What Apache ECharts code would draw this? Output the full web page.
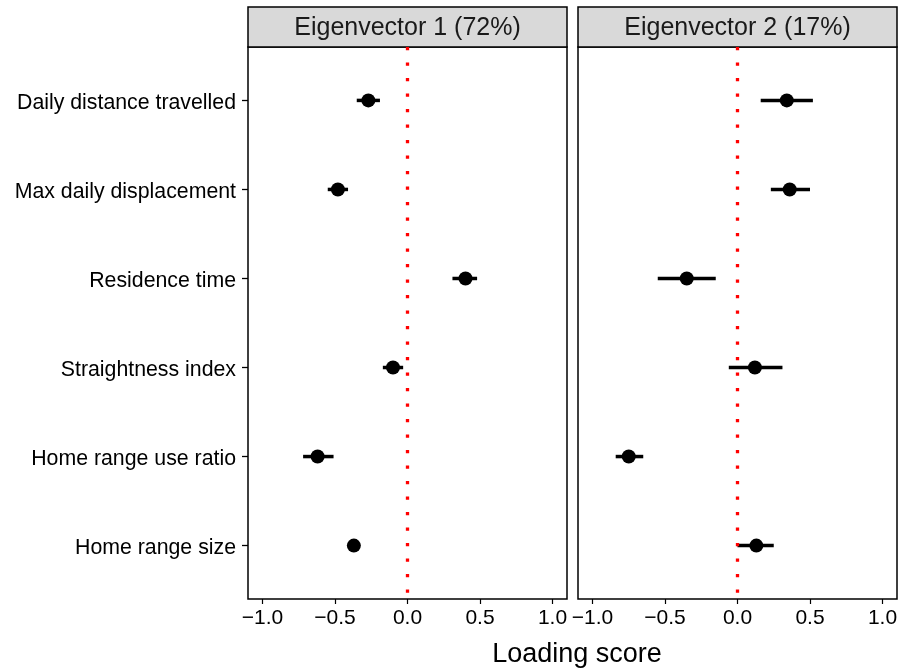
<!DOCTYPE html>
<html>
<head>
<meta charset="utf-8">
<script src="https://cdn.jsdelivr.net/npm/echarts@6/dist/echarts.min.js"></script>
<style>
  html, body { margin: 0; padding: 0; background: #fff; }
  #container { width: 909px; height: 671px; }
</style>
</head>
<body>
<div id="container"></div>
<script>
var categories = ['Daily distance travelled', 'Max daily displacement', 'Residence time',
                  'Straightness index', 'Home range use ratio', 'Home range size'];
var panelTitles = ['Eigenvector 1 (72%)', 'Eigenvector 2 (17%)'];
var xTicks = [-1, -0.5, 0, 0.5, 1];

// loading score with interval, one row per category
var ev1Est = [-0.27, -0.48, 0.40, -0.10, -0.62, -0.37];
var ev1Lo  = [-0.35, -0.55, 0.31, -0.17, -0.72, -0.39];
var ev1Hi  = [-0.19, -0.41, 0.48, -0.03, -0.51, -0.35];
var ev2Est = [0.34, 0.36, -0.35, 0.12, -0.75, 0.13];
var ev2Lo  = [0.16, 0.23, -0.55, -0.06, -0.84, 0.00];
var ev2Hi  = [0.52, 0.50, -0.15, 0.31, -0.65, 0.25];

var font = '"Liberation Sans", Arial, Helvetica, sans-serif';
var rowIdx = categories.map(function (c, i) { return i + 1; });
var xMin = -1.1, xMax = 1.1;

var dom = document.getElementById('container');
var myChart = echarts.init(dom);

function fmtTick(v) {
    return v.toFixed(1).replace('-', '\u2212');
}

function xAxisFor(gi) {
    return {
        gridIndex: gi,
        type: 'value',
        min: xMin,
        max: xMax,
        axisLine: {show: false, onZero: false},
        splitLine: {show: false},
        axisTick: {show: true, customValues: xTicks, length: 5, lineStyle: {color: '#000', width: 1.2}},
        axisLabel: {
            customValues: xTicks,
            formatter: fmtTick,
            fontSize: 21,
            fontFamily: font,
            color: '#000',
            margin: 9
        }
    };
}

function yAxisFor(gi, withLabels) {
    return {
        gridIndex: gi,
        type: 'value',
        min: 0.4,
        max: 6.6,
        inverse: true,
        axisLine: {show: false, onZero: false},
        splitLine: {show: false},
        axisTick: {show: false},
        axisLabel: {
            show: withLabels,
            customValues: rowIdx,
            formatter: function (v) { return categories[Math.round(v) - 1]; },
            fontSize: 21.3,
            fontFamily: font,
            color: '#000',
            verticalAlign: 'top',
            lineHeight: 5,
            margin: 12
        }
    };
}

// extra axis on the first panel, only for the row ticks
var yTickAxis = {
    gridIndex: 0,
    type: 'value',
    position: 'left',
    min: 0.4,
    max: 6.6,
    inverse: true,
    axisLine: {show: false, onZero: false},
    splitLine: {show: false},
    axisLabel: {show: false},
    axisTick: {show: true, customValues: rowIdx, length: 6, lineStyle: {color: '#000', width: 1.3}}
};

function barData(lo, hi) {
    return lo.map(function (v, i) { return [v, hi[i], i + 1]; });
}
function pointData(est) {
    return est.map(function (v, i) { return [v, i + 1]; });
}

function renderBar(params, api) {
    var y = api.value(2);
    var p1 = api.coord([api.value(0), y]);
    var p2 = api.coord([api.value(1), y]);
    return {
        type: 'line',
        shape: {x1: p1[0], y1: p1[1], x2: p2[0], y2: p2[1]},
        style: {stroke: '#000', lineWidth: 3.5, lineCap: 'butt'}
    };
}

function panelSeries(gi, est, lo, hi) {
    return [
        {
            type: 'custom',
            xAxisIndex: gi,
            yAxisIndex: gi,
            renderItem: renderBar,
            encode: {x: [0, 1], y: 2},
            data: barData(lo, hi),
            z: 2
        },
        {
            type: 'scatter',
            xAxisIndex: gi,
            yAxisIndex: gi,
            symbol: 'circle',
            symbolSize: 14,
            itemStyle: {color: '#000', opacity: 1},
            data: pointData(est),
            z: 3,
            markLine: {
                silent: true,
                symbol: ['none', 'none'],
                label: {show: false},
                lineStyle: {color: '#ff0000', width: 3.3, type: [3.3, 12.2], cap: 'butt', opacity: 1},
                data: [{xAxis: 0}]
            }
        }
    ];
}

var gridTop = 47, gridH = 552, gridW = 319;
var gridLefts = [248, 578];

var series = panelSeries(0, ev1Est, ev1Lo, ev1Hi).concat(panelSeries(1, ev2Est, ev2Lo, ev2Hi));
// empty series so the tick axis is used
series.push({type: 'scatter', xAxisIndex: 0, yAxisIndex: 2, data: [], silent: true});

var option = {
    animation: false,
    grid: gridLefts.map(function (l) {
        return {left: l, top: gridTop, width: gridW, height: gridH,
                show: true, borderColor: '#000', borderWidth: 1.5, backgroundColor: '#fff'};
    }),
    xAxis: [xAxisFor(0), xAxisFor(1)],
    yAxis: [yAxisFor(0, true), yAxisFor(1, false), yTickAxis],
    series: series,
    graphic: [
        {type: 'rect', shape: {x: gridLefts[0], y: 7, width: gridW, height: 40},
         style: {fill: '#d9d9d9', stroke: '#000', lineWidth: 1.5}},
        {type: 'rect', shape: {x: gridLefts[1], y: 7, width: gridW, height: 40},
         style: {fill: '#d9d9d9', stroke: '#000', lineWidth: 1.5}},
        {type: 'text', x: gridLefts[0] + gridW / 2, y: 28,
         style: {text: panelTitles[0], fontSize: 25, fontFamily: font, fill: '#1a1a1a',
                 align: 'center', verticalAlign: 'middle'}},
        {type: 'text', x: gridLefts[1] + gridW / 2, y: 28,
         style: {text: panelTitles[1], fontSize: 25, fontFamily: font, fill: '#1a1a1a',
                 align: 'center', verticalAlign: 'middle'}},
        {type: 'text', x: 577, y: 655,
         style: {text: 'Loading score', fontSize: 27, fontFamily: font, fill: '#000',
                 align: 'center', verticalAlign: 'middle'}}
    ]
};

myChart.setOption(option);
</script>
</body>
</html>
